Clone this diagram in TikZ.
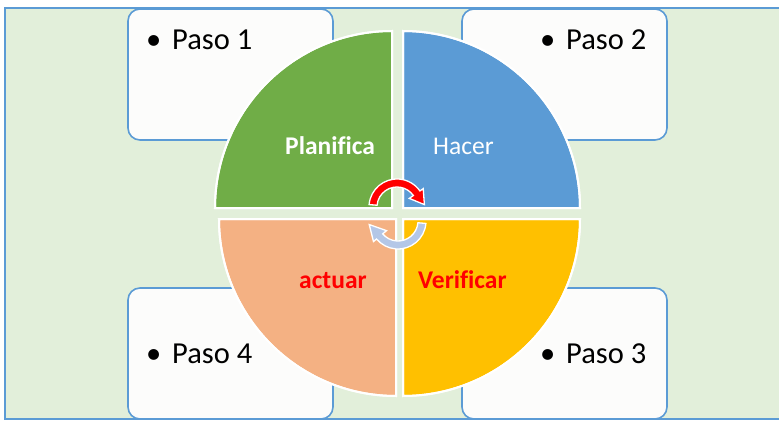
\documentclass[tikz,border=0pt]{standalone}
\usepackage{fontspec}
\setmainfont{Carlito}[Ligatures=NoCommon]
\usetikzlibrary{calc}
\definecolor{bgc}{HTML}{E2EFDA}
\definecolor{bord}{HTML}{5B9BD5}
\definecolor{qgreen}{HTML}{70AD47}
\definecolor{qblue}{HTML}{5B9BD5}
\definecolor{qpeach}{HTML}{F4B183}
\definecolor{qyellow}{HTML}{FFC000}
\definecolor{arrblue}{HTML}{B4C7E7}
\definecolor{boxfill}{HTML}{FCFCFB}
\begin{document}
\begin{tikzpicture}[x=1pt,y=1pt,
  stepbox/.style={draw=bord, line width=1.6pt, fill=boxfill, rounded corners=12pt,
    minimum width=205pt, minimum height=131pt, inner sep=0pt},
  quad/.style={draw=white, line width=2pt},
  pasotxt/.style={inner sep=0pt, anchor=base west, font=\fontsize{30.5}{36}\selectfont},
  qlabel/.style={inner sep=0pt, anchor=base west, font=\fontsize{25.5}{30}\selectfont},
  arrowshape/.style={draw=white, line width=1.3pt, line join=miter}]
\useasboundingbox (0,0) rectangle (779,421);
\clip (0,0) rectangle (779,421);
\fill[white] (0,0) rectangle (779,421);
\draw[line width=1.6pt, draw=bord, fill=bgc] (5,413) rectangle (790,2);

% step boxes
\node[stepbox] (b1) at (230.5,346.5) {};
\node[stepbox] (b2) at (564.5,346.5) {};
\node[stepbox] (b4) at (230.5,67.5) {};
\node[stepbox] (b3) at (564.5,67.5) {};

% quadrants
\fill[qgreen, quad] (392,213) -- (215,213) arc[start angle=180,end angle=90,radius=177] -- cycle;
\fill[qblue, quad] (403,213) -- (403,390) arc[start angle=90,end angle=0,radius=177] -- cycle;
\fill[qpeach, quad] (396,202) -- (396,25) arc[start angle=270,end angle=180,radius=177] -- cycle;
\fill[qyellow, quad] (403,202) -- (580,202) arc[start angle=0,end angle=-90,radius=177] -- cycle;
\draw[quad] (392,213) -- (215,213) arc[start angle=180,end angle=90,radius=177] -- cycle;
\draw[quad] (403,213) -- (403,390) arc[start angle=90,end angle=0,radius=177] -- cycle;
\draw[quad] (396,202) -- (396,25) arc[start angle=270,end angle=180,radius=177] -- cycle;
\draw[quad] (403,202) -- (580,202) arc[start angle=0,end angle=-90,radius=177] -- cycle;

% quadrant labels
\node[qlabel, text=white, font=\fontsize{25.5}{30}\selectfont\bfseries] (lp) at (285,266) {Planifica};
\node[qlabel, text=white] (lh) at (433,266) {Hacer};
\node[qlabel, text=red, font=\fontsize{25.5}{30}\selectfont\bfseries] (la) at (299,133) {actuar};
\node[qlabel, text=red, font=\fontsize{25.5}{30}\selectfont\bfseries] (lv) at (418,133) {Verificar};

% cycle arrows
\coordinate (rc) at (397,214);
\filldraw[fill=red, arrowshape] ($(rc)+(175:28)$) arc[start angle=175,end angle=35,radius=28]
  -- ($(rc)+(35:32)$) -- ($(rc)+(5:27.5)$) -- ($(rc)+(35:15)$) -- ($(rc)+(35:20)$)
  arc[start angle=35,end angle=175,radius=20] -- cycle;
\coordinate (bc) at (398,200);
\filldraw[fill=arrblue, arrowshape] ($(bc)+(-5:28)$) arc[start angle=-5,end angle=-140,radius=28]
  -- ($(bc)+(-140:32)$) -- ($(bc)+(187:29)$) -- ($(bc)+(-140:15)$) -- ($(bc)+(-140:20)$)
  arc[start angle=-140,end angle=-5,radius=20] -- cycle;

% step texts
\node[pasotxt] (d1) at (146,371) {•};
\node[pasotxt] (t1) at (172,371) {Paso 1};
\node[pasotxt] (d2) at (540,371) {•};
\node[pasotxt] (t2) at (566,371) {Paso 2};
\node[pasotxt] (d4) at (146,58) {•};
\node[pasotxt] (t4) at (172,58) {Paso 4};
\node[pasotxt] (d3) at (540,58) {•};
\node[pasotxt] (t3) at (566,58) {Paso 3};
\end{tikzpicture}
\end{document}
